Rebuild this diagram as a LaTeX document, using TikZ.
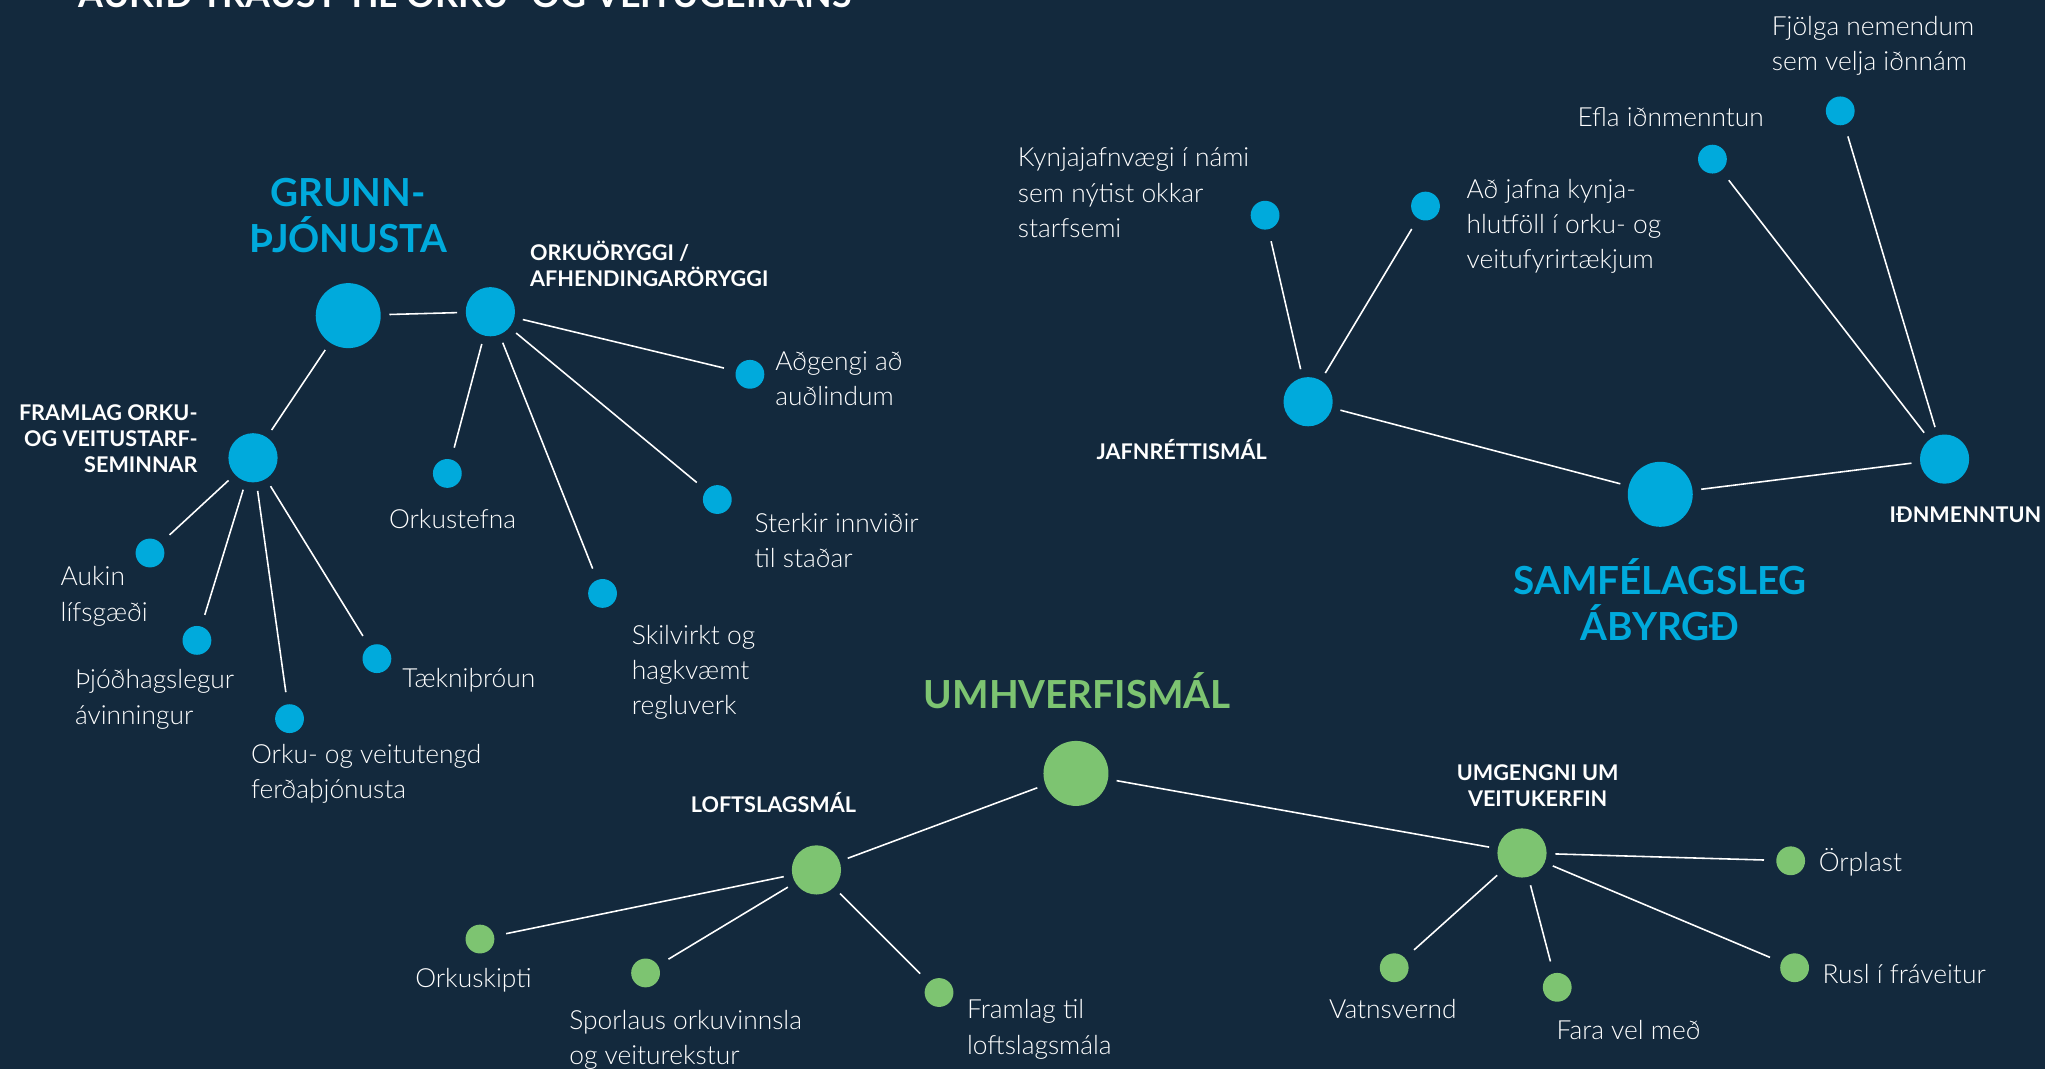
\documentclass[tikz,border=0pt]{standalone}
\usepackage{fontspec}
\setmainfont{Lato}
\newfontfamily\lightfont{Lato Light}
\usetikzlibrary{positioning}
\definecolor{navy}{RGB}{19,41,61}
\definecolor{skyblue}{RGB}{0,170,220}
\definecolor{leafgreen}{RGB}{125,196,113}

\begin{document}
\begin{tikzpicture}[x=0.013042cm,y=-0.013042cm,
  big/.style={circle,fill=#1,minimum size=18.5pt,inner sep=0pt,outer sep=2.5pt},
  mid/.style={circle,fill=#1,minimum size=14pt,inner sep=0pt,outer sep=2.5pt},
  dot/.style={circle,fill=#1,minimum size=8.2pt,inner sep=0pt,outer sep=3.5pt},
  head/.style={text=#1,font=\bfseries\fontsize{11}{13}\selectfont,align=center,inner sep=0pt},
  sub/.style={text=white,font=\bfseries\fontsize{6.15}{7.4}\selectfont,inner sep=0pt},
  txt/.style={text=white,font=\lightfont\fontsize{7.5}{10}\selectfont,align=left,inner sep=0pt},
  line/.style={draw=white,line width=0.45pt}]

\useasboundingbox (0,0) rectangle (1568,820);
\fill[navy] (0,0) rectangle (1568,820);

\node[anchor=base west,text=white,font=\bfseries\fontsize{10.2}{12}\selectfont,inner sep=0pt] (title) at (60,6) {AUKIÐ TRAUST TIL ORKU- OG VEITUGEIRANS};

% grunnthjonusta
\node[big=skyblue] (g_0) at (267,242) {};
\node[mid=skyblue] (g_1) at (376,239) {};
\node[mid=skyblue] (g_2) at (194,351) {};
\node[dot=skyblue] (g_3) at (575,287) {};
\node[dot=skyblue] (g_4) at (343,363) {};
\node[dot=skyblue] (g_5) at (550,383) {};
\node[dot=skyblue] (g_6) at (462,455) {};
\node[dot=skyblue] (g_7) at (115,424) {};
\node[dot=skyblue] (g_8) at (151,491) {};
\node[dot=skyblue] (g_9) at (222,551) {};
\node[dot=skyblue] (g_10) at (289,505) {};

\node[head=skyblue,anchor=north] (gt_0) at (267,136) {GRUNN-\\ÞJÓNUSTA};
\node[sub,anchor=north west,align=left] (gt_1) at (406,184) {ORKUÖRYGGI /\\AFHENDINGARÖRYGGI};
\node[sub,anchor=north east,align=right] (gt_2) at (152,310) {FRAMLAG ORKU-\\OG VEITUSTARF-\\SEMINNAR};
\node[txt,anchor=north west] (gt_3) at (594,269) {Aðgengi að\\auðlindum};
\node[txt,anchor=north] (gt_4) at (347,390) {Orkustefna};
\node[txt,anchor=north west] (gt_5) at (578,393) {Sterkir innviðir\\til staðar};
\node[txt,anchor=north west] (gt_6) at (484,479) {Skilvirkt og\\hagkvæmt\\regluverk};
\node[txt,anchor=north west] (gt_7) at (46,434) {Aukin\\lífsgæði};
\node[txt,anchor=north west] (gt_8) at (57,513) {Þjóðhagslegur\\ávinningur};
\node[txt,anchor=north west] (gt_9) at (192,570) {Orku- og veitutengd\\ferðaþjónusta};
\node[txt,anchor=north west] (gt_10) at (308,512) {Tækniþróun};

\path[line] (g_0) edge (g_1)
  (g_0) edge (g_2)
  (g_1) edge (g_3)
  (g_1) edge (g_4)
  (g_1) edge (g_5)
  (g_1) edge (g_6)
  (g_2) edge (g_7)
  (g_2) edge (g_8)
  (g_2) edge (g_9)
  (g_2) edge (g_10);

% samfelagsleg abyrgd
\node[big=skyblue] (s_0) at (1273,379) {};
\node[mid=skyblue] (s_1) at (1003,308) {};
\node[mid=skyblue] (s_2) at (1491,352) {};
\node[dot=skyblue] (s_3) at (970,165) {};
\node[dot=skyblue] (s_4) at (1093,158) {};
\node[dot=skyblue] (s_5) at (1313,122) {};
\node[dot=skyblue] (s_6) at (1411,85) {};

\node[head=skyblue,anchor=north] (st_0) at (1273,428) {SAMFÉLAGSLEG\\ÁBYRGÐ};
\node[sub,anchor=north] (st_1) at (906,336) {JAFNRÉTTISMÁL};
\node[sub,anchor=north] (st_2) at (1507,388) {IÐNMENNTUN};
\node[txt,anchor=north west] (st_3) at (780,113) {Kynjajafnvægi í námi\\sem nýtist okkar\\starfsemi};
\node[txt,anchor=north west] (st_4) at (1124,137) {Að jafna kynja-\\hlutföll í orku- og\\veitufyrirtækjum};
\node[txt,anchor=north west] (st_5) at (1209,82) {Efla iðnmenntun};
\node[txt,anchor=north west] (st_6) at (1358,12) {Fjölga nemendum\\sem velja iðnnám};

\path[line] (s_1) edge (s_0)
  (s_0) edge (s_2)
  (s_1) edge (s_3)
  (s_1) edge (s_4)
  (s_2) edge (s_5)
  (s_2) edge (s_6);

% umhverfismal
\node[big=leafgreen] (u_0) at (825,593) {};
\node[mid=leafgreen] (u_1) at (626,667) {};
\node[mid=leafgreen] (u_2) at (1167,654) {};
\node[dot=leafgreen] (u_3) at (368,720) {};
\node[dot=leafgreen] (u_4) at (495,746) {};
\node[dot=leafgreen] (u_5) at (720,761) {};
\node[dot=leafgreen] (u_6) at (1069,742) {};
\node[dot=leafgreen] (u_7) at (1194,757) {};
\node[dot=leafgreen] (u_8) at (1373,660) {};
\node[dot=leafgreen] (u_9) at (1376,742) {};

\node[head=leafgreen,anchor=north] (ut_0) at (826,515) {UMHVERFISMÁL};
\node[sub,anchor=north] (ut_1) at (593,607) {LOFTSLAGSMÁL};
\node[sub,anchor=north,align=center] (ut_2) at (1179,586) {UMGENGNI UM\\VEITUKERFIN};
\node[txt,anchor=north] (ut_3) at (363,742) {Orkuskipti};
\node[txt,anchor=north west] (ut_4) at (436,774) {Sporlaus orkuvinnsla\\og veiturekstur};
\node[txt,anchor=north west] (ut_5) at (741,766) {Framlag til\\loftslagsmála};
\node[txt,anchor=north] (ut_6) at (1068,766) {Vatnsvernd};
\node[txt,anchor=north west] (ut_7) at (1193,782) {Fara vel með};
\node[txt,anchor=north west] (ut_8) at (1394,650) {Örplast};
\node[txt,anchor=north west] (ut_9) at (1397,739) {Rusl í fráveitur};

\path[line] (u_0) edge (u_1)
  (u_0) edge (u_2)
  (u_1) edge (u_3)
  (u_1) edge (u_4)
  (u_1) edge (u_5)
  (u_2) edge (u_6)
  (u_2) edge (u_7)
  (u_2) edge (u_8)
  (u_2) edge (u_9);

\end{tikzpicture}
\end{document}
